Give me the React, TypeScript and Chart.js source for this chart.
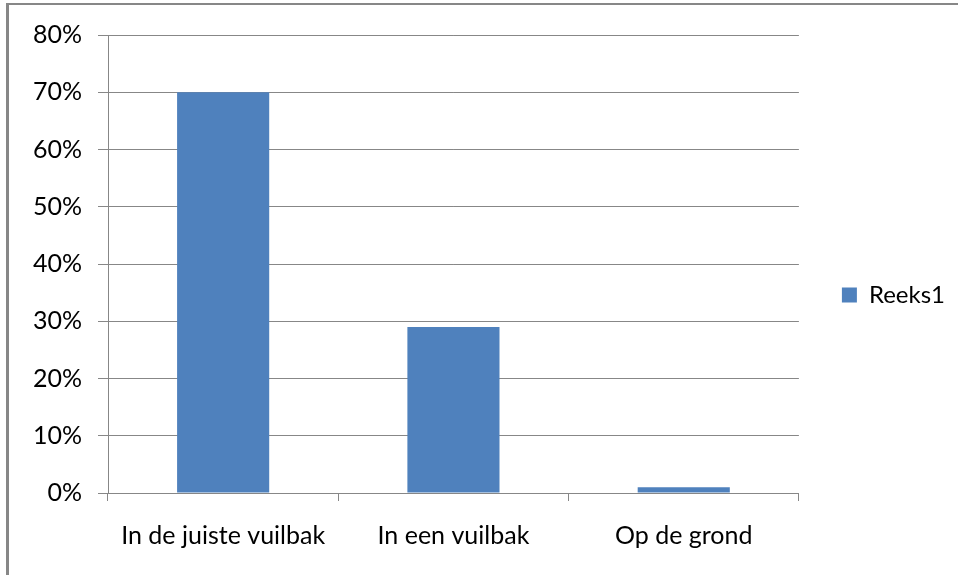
import React, { useEffect, useRef } from "react";
import { Chart, registerables } from "chart.js";

Chart.register(...registerables);

const categories = ["In de juiste vuilbak", "In een vuilbak", "Op de grond"];
const seriesName = "Reeks1";
const seriesValues = [70, 29, 1];
const yMax = 80;
const yStep = 10;

const FONT = "Lato";
const GRAY = "#878787";

export default function App() {
  const ref = useRef<HTMLCanvasElement | null>(null);

  useEffect(() => {
    document.body.style.margin = "0";
    const canvas = ref.current;
    if (!canvas) return;
    const chart = new Chart(canvas, {
      type: "bar",
      data: {
        labels: categories,
        datasets: [
          {
            label: seriesName,
            data: seriesValues,
            backgroundColor: "#4F81BD",
            borderWidth: 0,
            barPercentage: 0.4,
            categoryPercentage: 1,
          },
        ],
      },
      options: {
        animation: false,
        responsive: false,
        maintainAspectRatio: false,
        layout: { padding: { top: 35, bottom: 20, left: 8, right: 3 } },
        plugins: {
          tooltip: { enabled: false },
          legend: {
            position: "right",
            labels: {
              boxWidth: 15,
              boxHeight: 15,
              padding: 43,
              color: "#000",
              font: { family: FONT, size: 24 },
            },
          },
        },
        scales: {
          x: {
            afterFit: (s: any) => {
              s.height = 62;
            },
            border: { color: GRAY, width: 1 },
            grid: {
              drawOnChartArea: false,
              drawTicks: true,
              tickLength: 8,
              offset: true,
              color: GRAY,
            },
            ticks: {
              color: "#000",
              padding: 20,
              maxRotation: 0,
              autoSkip: false,
              font: { family: FONT, size: 25 },
            },
          },
          y: {
            min: 0,
            max: yMax,
            afterFit: (s: any) => {
              s.width = 100;
            },
            border: { color: GRAY, width: 1 },
            grid: { color: GRAY, tickLength: 10, lineWidth: 1 },
            ticks: {
              stepSize: yStep,
              color: "#000",
              padding: 16,
              font: { family: FONT, size: 25 },
              callback: (v: any) => v + "%",
            },
          },
        },
      },
    });
    return () => chart.destroy();
  }, []);

  return (
    <div
      style={{
        position: "fixed",
        left: 0,
        top: 0,
        width: 958,
        height: 575,
        overflow: "hidden",
        background: "#fff",
      }}
    >
      <canvas
        ref={ref}
        width={958}
        height={575}
        style={{ position: "absolute", left: 0, top: 0, width: 958, height: 575 }}
      />
      <div
        style={{
          position: "absolute",
          left: 6,
          top: 3,
          width: 1200,
          height: 900,
          borderLeft: `3px solid ${GRAY}`,
          borderTop: `2px solid ${GRAY}`,
          pointerEvents: "none",
        }}
      />
    </div>
  );
}
